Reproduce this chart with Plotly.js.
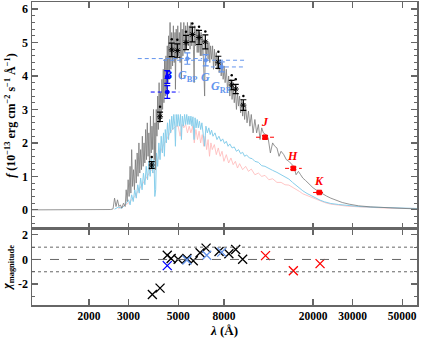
<!DOCTYPE html>
<html>
<head>
<meta charset="utf-8">
<script src="https://cdn.plot.ly/plotly-3.0.1.min.js"></script>
<style>html,body{margin:0;padding:0;background:#fff;}#chart{width:421px;height:339px;}</style>
</head>
<body>
<div id="chart"></div>
<script>
// ---- model spectrum (grey, high resolution) ----
const grayLambda = [
 1113, 2000, 2500, 2560, 2600, 2640, 2680, 2720, 2760, 2800,
 2850, 2900, 2930, 2960, 2990, 3020, 3050, 3075, 3100, 3130,
 3160, 3190, 3220, 3250, 3280, 3310, 3340, 3370, 3400, 3430,
 3460, 3490, 3520, 3550, 3580, 3610, 3640, 3670, 3700, 3730,
 3760, 3790, 3820, 3850, 3880, 3910, 3940, 3960, 3990, 4020,
 4050, 4080, 4110, 4140, 4170, 4200, 4230, 4260, 4290, 4320,
 4350, 4380, 4410, 4440, 4470, 4500, 4530, 4560, 4600, 4640,
 4680, 4720, 4760, 4800, 4840, 4861, 4900, 4940, 4980, 5020,
 5060, 5100, 5140, 5170, 5210, 5250, 5300, 5350, 5400, 5450,
 5500, 5550, 5600, 5650, 5700, 5750, 5800, 5850, 5890, 5930,
 5980, 6030, 6080, 6130, 6180, 6230, 6280, 6330, 6380, 6430,
 6500, 6563, 6620, 6680, 6740, 6800, 6860, 6920, 6980, 7050,
 7120, 7190, 7260, 7330, 7400, 7470, 7550, 7620, 7700, 7780,
 7860, 7940, 8020, 8100, 8200, 8300, 8400, 8500, 8600, 8700,
 8800, 8900, 9000, 9100, 9200, 9300, 9400, 9500, 9600, 9700,
 9800, 9900, 10000, 10150, 10300, 10450, 10600, 10800, 11000, 11200,
 11400, 11600, 11800, 12000, 12300, 12600, 12900, 13200, 13500, 13800,
 14100, 14400, 14800, 15200, 15600, 16000, 16400, 16800, 17200, 17600,
 18000, 18500, 19000, 19500, 20000, 20600, 21300, 22000, 23000, 24000,
 25500, 27000, 29000, 32000, 36000, 40000, 46000, 52000, 58900];
const grayFlux = [
 0.0, 0.0, 0.01, 0.03, 0.35, 0.1, 0.3, 0.1, 0.15, 0.05,
 0.2, 0.1, 0.6, 0.25, 0.9, 0.4, 1.3, 0.5, 1.8, 0.7,
 1.2, 0.6, 1.5, 0.8, 1.7, 1.0, 2.0, 1.1, 1.8, 1.2,
 2.2, 1.3, 2.0, 1.4, 2.4, 1.5, 2.6, 1.6, 2.3, 1.2,
 2.8, 1.7, 2.5, 1.8, 3.0, 1.5, 2.6, 1.2, 3.0, 2.2,
 3.4, 2.4, 3.8, 2.6, 3.5, 2.8, 3.9, 3.0, 4.2, 3.2,
 4.5, 3.4, 4.6, 3.6, 4.9, 3.8, 5.2, 3.9, 5.6, 4.2,
 5.3, 4.3, 5.5, 4.4, 5.3, 3.6, 5.4, 4.5, 5.5, 4.6,
 5.3, 4.4, 5.6, 3.9, 5.4, 4.6, 5.6, 4.7, 5.5, 4.8,
 5.6, 4.9, 5.5, 4.8, 5.6, 4.9, 5.5, 4.8, 3.8, 5.5,
 4.9, 5.4, 4.7, 5.4, 4.7, 5.3, 4.6, 5.3, 4.6, 5.2,
 4.5, 3.4, 5.1, 4.6, 5.0, 4.5, 5.0, 4.4, 4.9, 4.5,
 4.9, 4.2, 4.8, 4.3, 4.7, 4.2, 4.6, 4.1, 4.5, 4.0,
 4.4, 3.9, 4.3, 3.8, 4.2, 3.6, 4.0, 3.4, 3.9, 3.3,
 3.7, 3.2, 3.6, 3.0, 3.5, 3.1, 3.4, 2.9, 3.3, 2.8,
 3.2, 2.7, 3.1, 2.6, 2.95, 2.5, 2.85, 2.3, 2.7, 2.3,
 2.55, 2.1, 2.45, 2.3, 2.25, 2.15, 1.7, 2.0, 1.9, 1.85,
 1.6, 1.75, 1.65, 1.5, 1.45, 1.38, 1.3, 1.05, 1.15, 1.05,
 0.95, 0.88, 0.8, 0.72, 0.66, 0.6, 0.54, 0.48, 0.41, 0.35,
 0.28, 0.22, 0.17, 0.12, 0.09, 0.07, 0.05, 0.04, 0.03];

// ---- model spectrum (sky blue) ----
const blueLambda = [
 2600, 2700, 2800, 2900, 3000, 3050, 3100, 3150, 3200, 3250,
 3300, 3350, 3400, 3450, 3500, 3550, 3600, 3650, 3700, 3750,
 3800, 3850, 3900, 3933, 3968, 4000, 4050, 4100, 4150, 4200,
 4250, 4300, 4340, 4380, 4430, 4480, 4530, 4580, 4630, 4680,
 4730, 4780, 4830, 4861, 4900, 4950, 5000, 5060, 5120, 5170,
 5220, 5280, 5340, 5400, 5460, 5520, 5580, 5640, 5700, 5760,
 5820, 5890, 5950, 6010, 6080, 6150, 6220, 6300, 6380, 6460,
 6563, 6650, 6750, 6850, 6950, 7050, 7150, 7300, 7450, 7600,
 7750, 7900, 8050, 8200, 8350, 8500, 8700, 8900, 9100, 9300,
 9500, 9700, 9900, 10100, 10400, 10700, 11000, 11400, 11800, 12200,
 12700, 13200, 13800, 14400, 15000, 15600, 16200, 16800, 17400, 18000,
 18800, 19600, 20500, 21500, 22500, 24000, 26000, 28500, 32000, 37000,
 44000, 52000, 58900];
const blueFlux = [
 0.02, 0.08, 0.05, 0.15, 0.3, 0.15, 0.45, 0.25, 0.6, 0.35,
 0.75, 0.5, 0.95, 0.6, 1.1, 0.75, 1.3, 0.9, 1.45, 1.0,
 1.6, 1.1, 1.5, 0.4, 0.6, 1.7, 1.3, 2.0, 1.5, 2.2,
 1.7, 2.3, 1.6, 2.4, 2.0, 2.6, 2.1, 2.7, 2.3, 2.8,
 2.4, 2.85, 2.5, 1.9, 2.85, 2.5, 2.85, 2.5, 2.85, 2.1,
 2.8, 2.5, 2.85, 2.55, 2.85, 2.55, 2.8, 2.55, 2.8, 2.5,
 2.78, 2.1, 2.75, 2.45, 2.7, 2.45, 2.65, 2.4, 2.6, 2.35,
 1.9, 2.5, 2.3, 2.45, 2.25, 2.38, 2.2, 2.3, 2.1, 2.2,
 2.05, 2.12, 1.98, 2.05, 1.9, 1.97, 1.85, 1.88, 1.75, 1.8,
 1.68, 1.72, 1.6, 1.64, 1.55, 1.53, 1.45, 1.42, 1.32, 1.3,
 1.25, 1.18, 1.12, 1.05, 0.98, 0.92, 0.82, 0.73, 0.64, 0.57,
 0.49, 0.42, 0.35, 0.29, 0.24, 0.19, 0.16, 0.13, 0.1, 0.08,
 0.06, 0.05, 0.04];

// ---- model spectrum (pink) ----
const pinkLambda = [
 2700, 3000, 3200, 3400, 3600, 3800, 3900, 4000, 4100, 4200,
 4300, 4400, 4500, 4600, 4700, 4800, 4900, 5000, 5100, 5200,
 5300, 5400, 5500, 5600, 5700, 5800, 5900, 6000, 6100, 6200,
 6300, 6400, 6500, 6600, 6700, 6800, 6900, 7000, 7100, 7250,
 7400, 7550, 7700, 7850, 8000, 8200, 8400, 8600, 8800, 9000,
 9200, 9400, 9700, 10000, 10300, 10600, 11000, 11400, 11800, 12200,
 12700, 13200, 13800, 14400, 15000, 15600, 16200, 16800, 17400, 18000,
 18800, 19600, 20500, 21500, 22500, 24000, 26000, 28500, 32000, 37000,
 44000, 58900];
const pinkFlux = [
 0.03, 0.2, 0.4, 0.7, 0.95, 1.2, 1.1, 1.4, 1.6, 1.8,
 1.95, 2.05, 2.2, 2.3, 2.4, 2.45, 2.5, 2.5, 2.2, 2.55,
 2.45, 2.55, 2.3, 2.5, 2.3, 2.5, 2.0, 2.4, 2.1, 2.35,
 2.0, 2.25, 1.9, 2.2, 1.8, 2.1, 1.6, 2.0, 1.8, 1.95,
 1.65, 1.85, 1.6, 1.75, 1.45, 1.65, 1.4, 1.55, 1.35, 1.45,
 1.25, 1.38, 1.2, 1.3, 1.15, 1.22, 1.05, 1.1, 1.0, 1.03,
 0.9, 0.93, 0.82, 0.82, 0.75, 0.74, 0.68, 0.6, 0.55, 0.48,
 0.43, 0.37, 0.31, 0.26, 0.22, 0.17, 0.14, 0.11, 0.09, 0.07,
 0.05, 0.04];

// ---- photometry: black points ----
const blackLambda = [3811, 4150, 4680, 4958, 5420, 5785, 6196, 6610, 7557, 8670, 9036, 9770];
const blackFlux   = [1.34, 2.78, 4.78, 4.76, 5.00, 5.24, 5.15, 5.02, 4.41, 3.73, 3.61, 3.13];
const blackErr    = [0.10, 0.14, 0.20, 0.20, 0.21, 0.22, 0.21, 0.21, 0.18, 0.14, 0.14, 0.16];
const blackModel  = [1.58, 3.08, 5.10, 5.08, 5.32, 5.57, 5.47, 5.33, 4.72, 4.02, 3.90, 3.40];

// ---- photometry: B / V (dark blue) ----
const bvLambda = [4470, 4470];
const bvFlux   = [3.97, 3.52];
const bvErr    = [0.19, 0.19];
const bvBandLo = [null, 3771];
const bvBandHi = [null, 5060];

// ---- photometry: Gaia (cornflower blue) ----
const gaiaLambda = [5495, 6637, 7824];
const gaiaFlux   = [4.52, 4.47, 4.27];
const gaiaErr    = [0.17, 0.17, 0.15];
const gaiaBandLo = [3300, 4280, 7000];
const gaiaBandHi = [6400, 9930, 10000];

// ---- photometry: 2MASS (red) ----
const jhkLambda = [12210, 16330, 21330];
const jhkFlux   = [2.17, 1.24, 0.52];
const jhkErr    = [0.05, 0.04, 0.02];
const jhkBandLo = [11130, 15000, 20000];
const jhkBandHi = [13530, 17810, 22160];

// ---- residuals ----
const resBlackLambda = [3835, 4150, 4470, 4650, 5000, 5470, 5840, 6260, 6660, 7610, 8420, 9030, 9700];
const resBlack       = [-2.85, -2.33, 0.34, 0.08, 0.02, 0.08, -0.10, 0.55, 0.92, 0.65, 0.47, 0.81, 0.02];
const resBvLambda = [4470];
const resBv       = [-0.50];
const resGaiaLambda = [5470, 6705, 7824];
const resGaia       = [-0.05, 0.34, 0.60];
const resJhkLambda = [12270, 16330, 21490];
const resJhk       = [0.31, -0.92, -0.34];

// ---- labels ----
const labelText   = ['<i>J</i>', '<i>H</i>', '<i>K</i>', '<i>G</i><sub>BP</sub>', '<i>G</i>', '<i>G</i><sub>RP</sub>', '<i>B</i>'];
const labelLambda = [12250, 16150, 21300, 5500, 6637, 7750, 4470];
const labelFlux   = [2.62, 1.62, 0.86, 4.0, 3.97, 3.68, 4.04];
const labelColor  = ['#ff0000', '#ff0000', '#ff0000', '#6495ed', '#6495ed', '#6495ed', '#0000ff'];

// ---- axis ticks ----
const xTickVals = [2000, 3000, 5000, 8000, 20000, 30000, 50000];
const xTickText = ['2000', '3000', '5000', '8000', '20000', '30000', '50000'];
const yTopTicks = [0, 1, 2, 3, 4, 5, 6];
const yBotTicks = [-2, 0, 2];
const yBotText  = ['-2', '0', '2'];

const BLACK = '#000000', DBLUE = '#0000ff', GAIA = '#6495ed', RED = '#ff0000';

const traces = [];
traces.push({x: pinkLambda, y: pinkFlux, type: 'scatter', mode: 'lines', line: {color: '#ffb8b8', width: 0.8}, xaxis: 'x', yaxis: 'y', hoverinfo: 'skip'});
traces.push({x: blueLambda, y: blueFlux, type: 'scatter', mode: 'lines', line: {color: '#87ceeb', width: 1}, xaxis: 'x', yaxis: 'y', hoverinfo: 'skip'});
traces.push({x: grayLambda, y: grayFlux, type: 'scatter', mode: 'lines', line: {color: '#7a7a7a', width: 0.8}, xaxis: 'x', yaxis: 'y', hoverinfo: 'skip'});

function bands(lam, flux, lo, hi, color) {
  for (let i = 0; i < lam.length; i++) {
    if (lo[i] == null) continue;
    traces.push({x: [lo[i], hi[i]], y: [flux[i], flux[i]], type: 'scatter', mode: 'lines',
      line: {color: color, width: 1, dash: '4px,3px'}, xaxis: 'x', yaxis: 'y', hoverinfo: 'skip'});
  }
}
bands(gaiaLambda, gaiaFlux, gaiaBandLo, gaiaBandHi, GAIA);
bands(bvLambda, bvFlux, bvBandLo, bvBandHi, DBLUE);
bands(jhkLambda, jhkFlux, jhkBandLo, jhkBandHi, RED);

function points(lam, flux, err, color, symbol, size) {
  traces.push({x: lam, y: flux, type: 'scatter', mode: 'markers', xaxis: 'x', yaxis: 'y',
    marker: {color: color, symbol: symbol, size: size, line: {color: color, width: 1}},
    error_y: {type: 'data', array: err, visible: true, color: color, thickness: 1.2, width: 3}});
}
points(blackLambda, blackFlux, blackErr, BLACK, 'asterisk-open', 5);
traces.push({x: blackLambda, y: blackModel, type: 'scatter', mode: 'markers', xaxis: 'x', yaxis: 'y',
  marker: {color: BLACK, size: 2.5, symbol: 'circle'}});
points(bvLambda, bvFlux, bvErr, DBLUE, 'circle', 4);
points(gaiaLambda, gaiaFlux, gaiaErr, GAIA, 'circle', 3.5);
points(jhkLambda, jhkFlux, jhkErr, RED, 'square', 4.5);

function resid(lam, val, color) {
  traces.push({x: lam, y: val, type: 'scatter', mode: 'markers', xaxis: 'x2', yaxis: 'y2',
    marker: {color: color, symbol: 'x-thin-open', size: 9, line: {color: color, width: 1.3}}});
}
resid(resBlackLambda, resBlack, BLACK);
resid(resBvLambda, resBv, DBLUE);
resid(resGaiaLambda, resGaia, GAIA);
resid(resJhkLambda, resJhk, RED);

const annotations = labelText.map((t, i) => ({
  text: t, x: Math.log10(labelLambda[i]), y: labelFlux[i], xref: 'x', yref: 'y',
  showarrow: false, font: {family: 'Liberation Serif', size: 12, color: labelColor[i], weight: 'bold'}
}));

const axisLine = {showline: true, linecolor: '#666', linewidth: 1.5, ticks: 'inside', tickcolor: '#666',
  tickwidth: 1.2, mirror: 'ticks', showgrid: false, zeroline: false};
const xr = [3.0465, 4.765];

const layout = {
  width: 421, height: 339,
  margin: {l: 32, r: 4, t: 2, b: 34},
  paper_bgcolor: '#fff', plot_bgcolor: '#fff',
  showlegend: false,
  font: {family: 'Liberation Serif', size: 12, color: '#000', weight: 'bold'},
  xaxis: Object.assign({}, axisLine, {type: 'log', range: xr, anchor: 'y', domain: [0, 1],
    tickmode: 'array', tickvals: xTickVals, showticklabels: false, ticklen: 6}),
  yaxis: Object.assign({}, axisLine, {range: [-0.57, 6.21], domain: [0.251, 1], anchor: 'x',
    tickmode: 'array', tickvals: yTopTicks, ticklen: 6,
    minor: {dtick: 0.2, ticklen: 3, ticks: 'inside', tickcolor: '#666', tickwidth: 1},
    tickfont: {size: 12},
    title: {text: '<i>f</i> (10<sup>\u221213</sup> erg cm<sup>\u22122</sup> s<sup>\u22121</sup> \u00c5<sup>\u22121</sup>)',
      font: {size: 12}, standoff: 4}}),
  xaxis2: Object.assign({}, axisLine, {type: 'log', range: xr, anchor: 'y2', domain: [0, 1],
    tickmode: 'array', tickvals: xTickVals, ticktext: xTickText, ticklen: 6,
    tickfont: {size: 11.5},
    title: {text: '<i>\u03bb</i> (\u00c5)', font: {size: 13}, standoff: 4}}),
  yaxis2: Object.assign({}, axisLine, {range: [-3.7, 2.48], domain: [0, 0.251], anchor: 'x2',
    tickmode: 'array', tickvals: yBotTicks, ticktext: yBotText, ticklen: 6,
    minor: {dtick: 1, ticklen: 3, ticks: 'inside', tickcolor: '#666', tickwidth: 1},
    tickfont: {size: 12},
    title: {text: '<i>\u03c7</i><sub>magnitude</sub>', font: {size: 12}, standoff: 4}}),
  shapes: [
    {type: 'line', xref: 'x2 domain', yref: 'y2', x0: 0, x1: 1, y0: 0, y1: 0, line: {color: '#666', width: 1, dash: 'dash'}},
    {type: 'line', xref: 'x2 domain', yref: 'y2', x0: 0, x1: 1, y0: 1, y1: 1, line: {color: '#666', width: 1, dash: 'dot'}},
    {type: 'line', xref: 'x2 domain', yref: 'y2', x0: 0, x1: 1, y0: -1, y1: -1, line: {color: '#666', width: 1, dash: 'dot'}}
  ],
  annotations: annotations
};

Plotly.newPlot('chart', traces, layout, {staticPlot: true, displayModeBar: false});
</script>
</body>
</html>
